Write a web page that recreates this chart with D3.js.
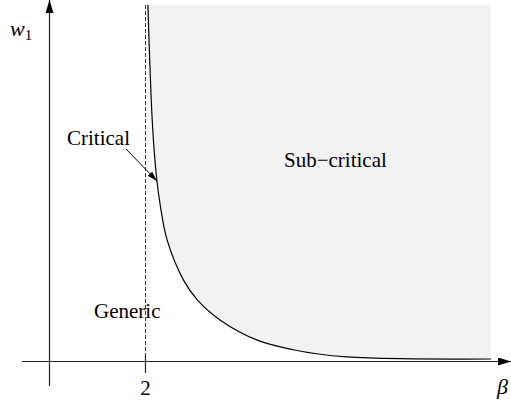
<!DOCTYPE html>
<html lang="en">
<head>
  <title>critical curve</title>
  <script type="text/javascript" src="https://cdn.jsdelivr.net/npm/d3@7/dist/d3.min.js"></script>
  <style>
    body {
      margin: 0px;
      background: white;
    }
    svg {
      display: block;
    }
    text {
      font-family: "Liberation Serif", "Times New Roman", serif;
    }
  </style>
</head>
<body>
  <script type="text/javascript">
    // Data: the critical curve w1(beta)
    var betaValues = [2.05, 2.12, 2.18, 2.24, 2.30, 2.45, 2.79, 3.08, 3.56, 4.33, 5.08, 5.60, 6.20, 7.31, 9.20];
    var w1Values   = [10.0, 7.33, 5.93, 5.05, 4.45, 3.41, 2.29, 1.73, 1.16, 0.60, 0.33, 0.21, 0.13, 0.08, 0.07];
    var criticalBeta = 2;
    var tickLabels = ["2"];
    var regionLabels = ["Critical", "Sub\u2212critical", "Generic"];

    var width = 511;
    var height = 402;

    var x = d3.scaleLinear().domain([0, 9.2]).range([49.5, 491]);
    var y = d3.scaleLinear().domain([0, 10]).range([361.5, 5]);

    var curve = betaValues.map(function(b, i) { return {b: b, w: w1Values[i]}; });
    var smooth = d3.curveCatmullRom.alpha(0.5);

    var svg = d3.select("body").append("svg")
      .attr("width", width)
      .attr("height", height);

    // Sub-critical area, between curve and top of plot
    var area = d3.area()
      .curve(smooth)
      .x(function(d) { return x(d.b); })
      .y0(y(10))
      .y1(function(d) { return y(d.w) - 1; });
    svg.append("path")
      .datum(curve)
      .attr("d", area)
      .attr("fill", "#f2f2f2");

    // Arrow markers
    var defs = svg.append("defs");
    defs.append("marker")
      .attr("id", "bigArrow")
      .attr("viewBox", "0 0 13 8")
      .attr("refX", 13).attr("refY", 4)
      .attr("markerWidth", 13).attr("markerHeight", 8)
      .attr("markerUnits", "userSpaceOnUse")
      .attr("orient", "auto")
      .append("path").attr("d", "M0,0L13,4L0,8Z").attr("fill", "black");
    defs.append("marker")
      .attr("id", "smallArrow")
      .attr("viewBox", "0 0 10 6")
      .attr("refX", 10).attr("refY", 3)
      .attr("markerWidth", 10).attr("markerHeight", 6)
      .attr("markerUnits", "userSpaceOnUse")
      .attr("orient", "auto")
      .append("path").attr("d", "M0,0L10,3L0,6Z").attr("fill", "black");

    // Axes
    svg.append("line")
      .attr("x1", 22).attr("y1", y(0))
      .attr("x2", 511).attr("y2", y(0))
      .attr("stroke", "#222").attr("stroke-width", 1.2)
      .attr("marker-end", "url(#bigArrow)");
    svg.append("line")
      .attr("x1", x(0)).attr("y1", 386)
      .attr("x2", x(0)).attr("y2", 0)
      .attr("stroke", "#222").attr("stroke-width", 1.2)
      .attr("marker-end", "url(#bigArrow)");

    // beta = 2 dashed line and tick
    svg.append("line")
      .attr("x1", x(criticalBeta)).attr("y1", 5)
      .attr("x2", x(criticalBeta)).attr("y2", 355)
      .attr("stroke", "#333").attr("stroke-width", 1)
      .attr("stroke-dasharray", "4,2");
    svg.append("line")
      .attr("x1", x(criticalBeta)).attr("y1", 355)
      .attr("x2", x(criticalBeta)).attr("y2", 373)
      .attr("stroke", "#222").attr("stroke-width", 1.2);

    // Critical curve
    var line = d3.line()
      .curve(smooth)
      .x(function(d) { return x(d.b); })
      .y(function(d) { return y(d.w); });
    svg.append("path")
      .datum(curve)
      .attr("d", line)
      .attr("fill", "none")
      .attr("stroke", "black")
      .attr("stroke-width", 1.2);

    // Labels
    svg.append("text")
      .attr("x", x(criticalBeta)).attr("y", 395)
      .attr("text-anchor", "middle")
      .attr("font-size", 21)
      .text(tickLabels[0]);

    var wl = svg.append("text")
      .attr("x", 10).attr("y", 36)
      .attr("font-size", 22)
      .attr("font-style", "italic")
      .text("w");
    wl.append("tspan")
      .attr("dy", 4)
      .attr("font-size", 15)
      .attr("font-style", "normal")
      .text("1");

    svg.append("text")
      .attr("x", 497).attr("y", 394)
      .attr("font-size", 22)
      .attr("font-style", "italic")
      .text("\u03b2");

    svg.append("text")
      .attr("x", 67).attr("y", 145)
      .attr("font-size", 21)
      .text(regionLabels[0]);
    svg.append("text")
      .attr("x", 284).attr("y", 167)
      .attr("font-size", 21)
      .text(regionLabels[1]);
    svg.append("text")
      .attr("x", 94).attr("y", 318)
      .attr("font-size", 21)
      .text(regionLabels[2]);

    // Pointer from "Critical" to the curve
    svg.append("line")
      .attr("x1", 126).attr("y1", 149)
      .attr("x2", 157).attr("y2", 181)
      .attr("stroke", "black").attr("stroke-width", 1)
      .attr("marker-end", "url(#smallArrow)");
  </script>
</body>
</html>
